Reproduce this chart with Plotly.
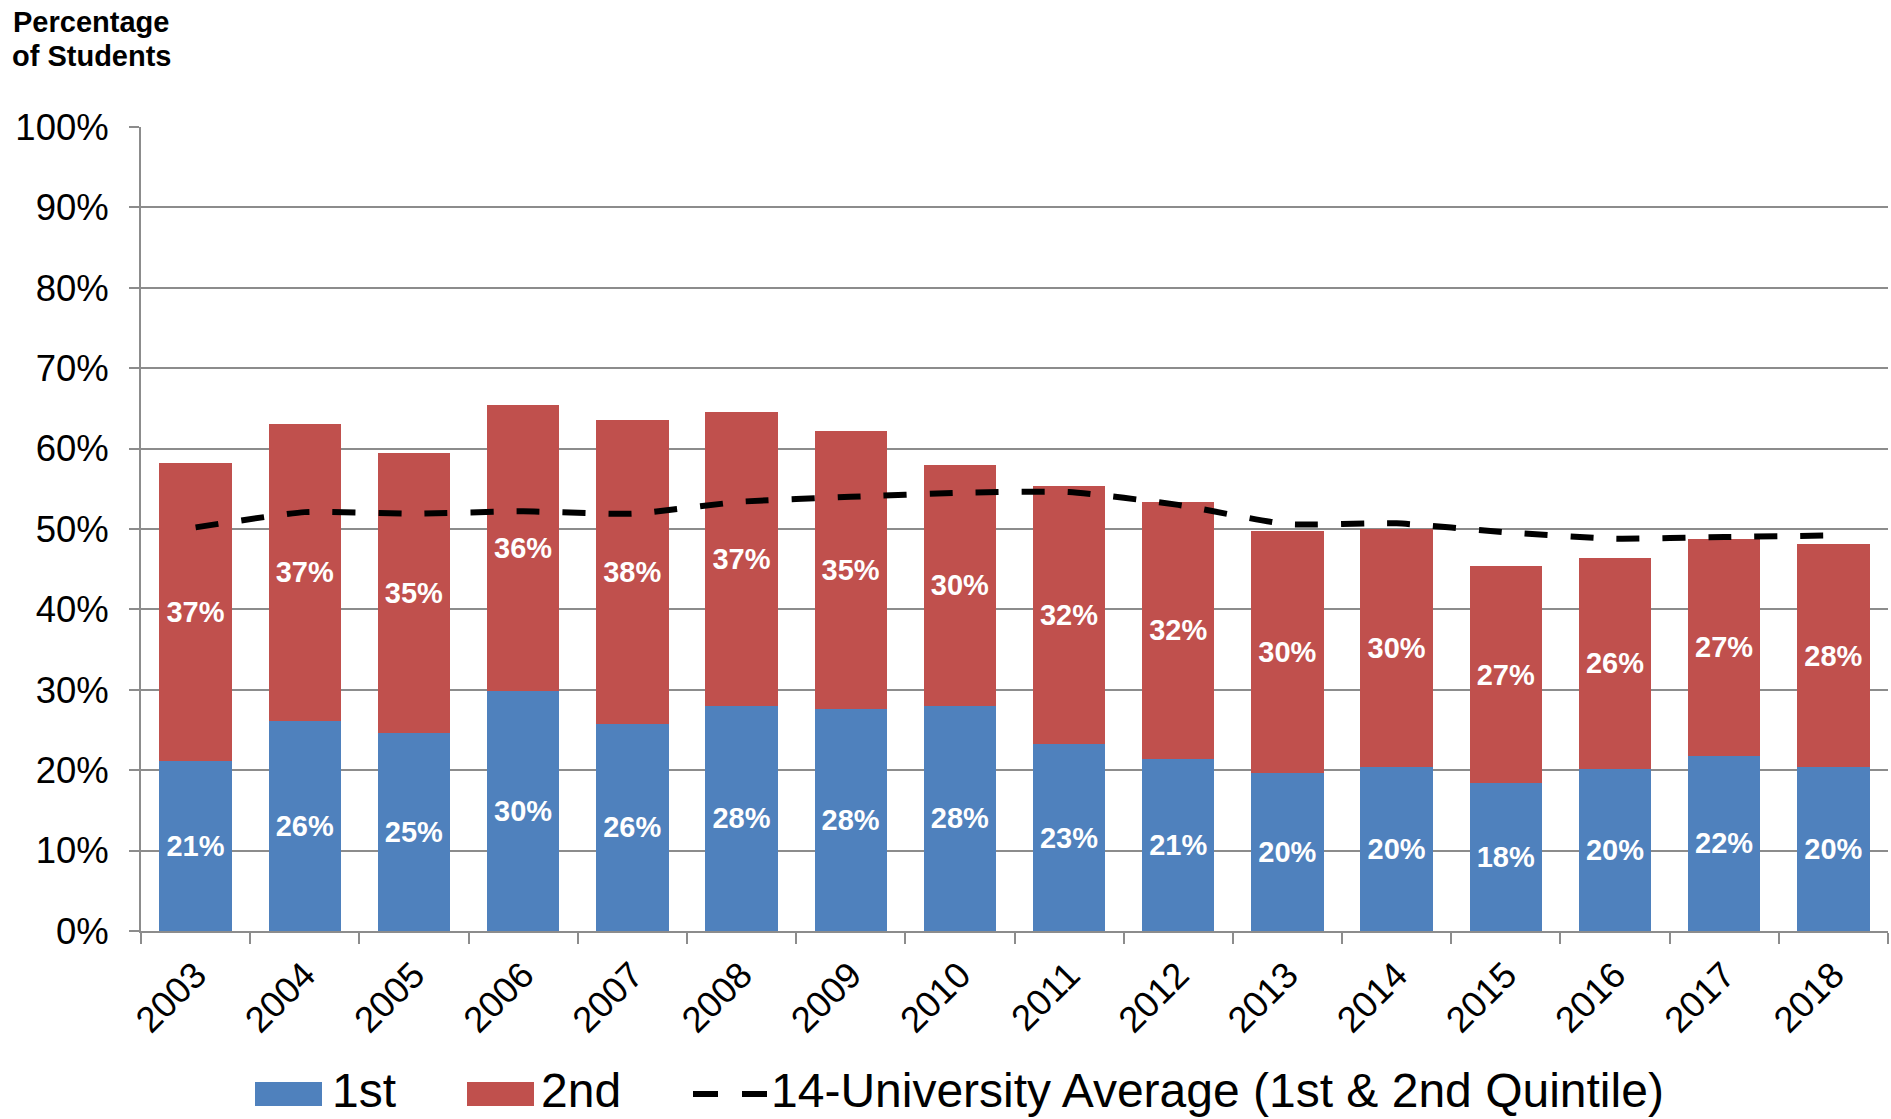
import plotly.graph_objects as go

years = ["2003", "2004", "2005", "2006", "2007", "2008", "2009", "2010",
         "2011", "2012", "2013", "2014", "2015", "2016", "2017", "2018"]
first_quintile = [21.1, 26.1, 24.6, 29.8, 25.8, 28.0, 27.6, 28.0,
                  23.2, 21.4, 19.6, 20.4, 18.4, 20.2, 21.8, 20.4]
second_quintile = [37.1, 37.0, 34.8, 35.6, 37.8, 36.6, 34.6, 30.0,
                   32.1, 32.0, 30.2, 29.6, 27.0, 26.2, 27.0, 27.7]
avg_14 = [50.2, 52.1, 51.9, 52.2, 51.9, 53.4, 54.0, 54.5,
          54.6, 53.0, 50.6, 50.7, 49.6, 48.8, 49.0, 49.2]
y_ticks = [0, 10, 20, 30, 40, 50, 60, 70, 80, 90, 100]
y_tick_labels = [f"{v}%" for v in y_ticks]

BLUE = "#4F81BD"
RED = "#C0504D"
GRID = "#8C8C8C"
FONT = "Liberation Sans, Arial, sans-serif"

FIG_W, FIG_H = 1891, 1119
L, R, T, B = 141, 3, 127, 188
PW = FIG_W - L - R
PH = FIG_H - T - B


def px(x):
    return (x - L) / PW


def py(y):
    return (FIG_H - B - y) / PH


fig = go.Figure()
fig.add_trace(go.Bar(
    x=years, y=first_quintile, name="1st",
    marker=dict(color=BLUE, line=dict(width=0)),
    texttemplate="%{y:.0f}%", textposition="inside",
    insidetextanchor="middle",
    textfont=dict(family=FONT, size=29, color="white", weight="bold"),
    showlegend=False,
))
fig.add_trace(go.Bar(
    x=years, y=second_quintile, name="2nd",
    marker=dict(color=RED, line=dict(width=0)),
    texttemplate="%{y:.0f}%", textposition="inside",
    insidetextanchor="middle",
    textfont=dict(family=FONT, size=29, color="white", weight="bold"),
    showlegend=False,
))
fig.add_trace(go.Scatter(
    x=years, y=avg_14, mode="lines",
    name="14-University Average (1st & 2nd Quintile)",
    line=dict(color="black", width=6, dash="23px,23px", shape="spline", smoothing=0.5),
    showlegend=False,
))

# manual legend
legend_y = 1090
shapes = [
    dict(type="rect", xref="paper", yref="paper",
         x0=px(255), x1=px(322), y0=py(1106), y1=py(1082),
         fillcolor=BLUE, line=dict(width=0)),
    dict(type="rect", xref="paper", yref="paper",
         x0=px(467), x1=px(534), y0=py(1106), y1=py(1082),
         fillcolor=RED, line=dict(width=0)),
    dict(type="line", xref="paper", yref="paper",
         x0=px(693), x1=px(767), y0=py(1094), y1=py(1094),
         line=dict(color="black", width=6, dash="25px,24px")),
]
leg_font = dict(family=FONT, size=48, color="black")
title_font = dict(family=FONT, size=29, color="black")
annotations = [
    dict(text="1st", x=px(330), y=py(legend_y), xref="paper", yref="paper",
         xanchor="left", yanchor="middle", showarrow=False, font=leg_font),
    dict(text="2nd", x=px(539), y=py(legend_y), xref="paper", yref="paper",
         xanchor="left", yanchor="middle", showarrow=False, font=leg_font),
    dict(text="14-University Average (1st & 2nd Quintile)", x=px(769), y=py(legend_y),
         xref="paper", yref="paper", xanchor="left", yanchor="middle", showarrow=False,
         font=leg_font),
    dict(text="<b>Percentage</b>", x=px(11), y=py(4),
         xref="paper", yref="paper", xanchor="left", yanchor="top", align="left",
         showarrow=False, font=title_font),
    dict(text="<b>of Students</b>", x=px(10), y=py(38),
         xref="paper", yref="paper", xanchor="left", yanchor="top", align="left",
         showarrow=False, font=title_font),
]

fig.update_layout(
    width=FIG_W, height=FIG_H,
    margin=dict(l=L, r=R, t=T, b=B, pad=0),
    barmode="stack", bargap=0.337,
    plot_bgcolor="white", paper_bgcolor="white",
    font=dict(family=FONT, color="black"),
    shapes=shapes, annotations=annotations,
    showlegend=False,
)
fig.update_xaxes(
    type="category", tickangle=-45,
    tickfont=dict(family=FONT, size=36.5, color="black"),
    showline=True, linecolor=GRID, linewidth=2,
    ticks="outside", ticklen=11, tickwidth=2, tickcolor=GRID,
    tickson="boundaries", showgrid=False, ticklabelstandoff=6,
)
fig.update_yaxes(
    range=[0, 100], tickmode="array", tickvals=y_ticks, ticktext=y_tick_labels,
    tickfont=dict(family=FONT, size=36.5, color="black"),
    showline=True, linecolor=GRID, linewidth=2,
    showgrid=True, gridcolor=GRID, gridwidth=2,
    ticks="outside", ticklen=10, tickwidth=2, tickcolor=GRID,
    zeroline=False, ticklabelstandoff=13,
)

fig.write_html("out.html", config={"displayModeBar": False},
               post_script="document.body.style.margin='0';")
